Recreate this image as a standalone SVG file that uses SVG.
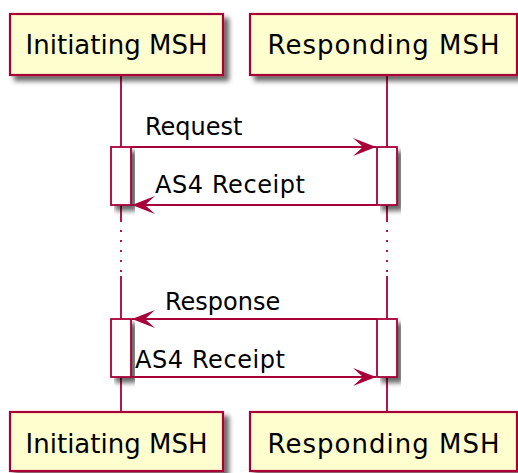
<svg xmlns="http://www.w3.org/2000/svg" width="518" height="473" viewBox="0 0 518 473">
<defs>
<filter id="sh" x="-10%" y="-10%" width="130%" height="140%">
<feGaussianBlur in="SourceAlpha" stdDeviation="2.5"/>
<feOffset dx="5" dy="5" result="b"/>
<feComponentTransfer><feFuncA type="linear" slope="0.6"/></feComponentTransfer>
<feMerge><feMergeNode/><feMergeNode in="SourceGraphic"/></feMerge>
</filter>
<marker id="ah" markerWidth="25" markerHeight="20" refX="24" refY="10" orient="auto" markerUnits="userSpaceOnUse">
<polygon points="1,1 24,10 1,19 11,10" fill="#A80036"/>
</marker>
</defs>
<style>
.box{fill:#FEFECE;stroke:#A80036;stroke-width:2.2}
.act{fill:#FFFFFF;stroke:#A80036;stroke-width:1.8}
.life{stroke:#A80036;stroke-width:1.8;fill:none}
.dots{stroke:#A80036;stroke-width:1.8;stroke-dasharray:2 8;fill:none}
.msg{stroke:#A80036;stroke-width:1.8;fill:none;marker-end:url(#ah)}
.pt{font-family:"DejaVu Sans",sans-serif;font-size:26px;fill:#000000;text-anchor:middle}
.mt{font-family:"DejaVu Sans",sans-serif;font-size:24px;fill:#000000}
</style>
<g id="lifelines">
<path class="life" d="M121,75V222M121,276V412M387,75V222M387,276V412"/>
<path class="dots" d="M121,230V273M387,230V273"/>
</g>
<g id="activations">
<rect class="act" x="111" y="147" width="20" height="58" filter="url(#sh)"/>
<rect class="act" x="377" y="147" width="20" height="58" filter="url(#sh)"/>
<rect class="act" x="111" y="319" width="20" height="58" filter="url(#sh)"/>
<rect class="act" x="377" y="319" width="20" height="58" filter="url(#sh)"/>
</g>
<g id="initiating-top">
<rect class="box" x="10" y="14" width="213" height="61" filter="url(#sh)"/>
<text class="pt" x="116.5" y="54">Initiating MSH</text>
</g>
<g id="responding-top">
<rect class="box" x="250" y="14" width="267" height="61" filter="url(#sh)"/>
<text class="pt" x="383.5" y="54" textLength="232" lengthAdjust="spacing">Responding MSH</text>
</g>
<g id="initiating-bottom">
<rect class="box" x="10" y="412" width="213" height="59" filter="url(#sh)"/>
<text class="pt" x="116.5" y="453">Initiating MSH</text>
</g>
<g id="responding-bottom">
<rect class="box" x="250" y="412" width="267" height="59" filter="url(#sh)"/>
<text class="pt" x="383.5" y="453" textLength="232" lengthAdjust="spacing">Responding MSH</text>
</g>
<g id="connectors">
<line class="msg" x1="131" y1="147" x2="376" y2="147"/>
<text class="mt" x="145" y="135">Request</text>
<line class="msg" x1="377" y1="205" x2="132" y2="205"/>
<text class="mt" x="155" y="193" textLength="150" lengthAdjust="spacing">AS4 Receipt</text>
<line class="msg" x1="377" y1="319" x2="132" y2="319"/>
<text class="mt" x="165" y="310">Response</text>
<line class="msg" x1="131" y1="377" x2="376" y2="377"/>
<text class="mt" x="135" y="368" textLength="150" lengthAdjust="spacing">AS4 Receipt</text>
</g>
</svg>
